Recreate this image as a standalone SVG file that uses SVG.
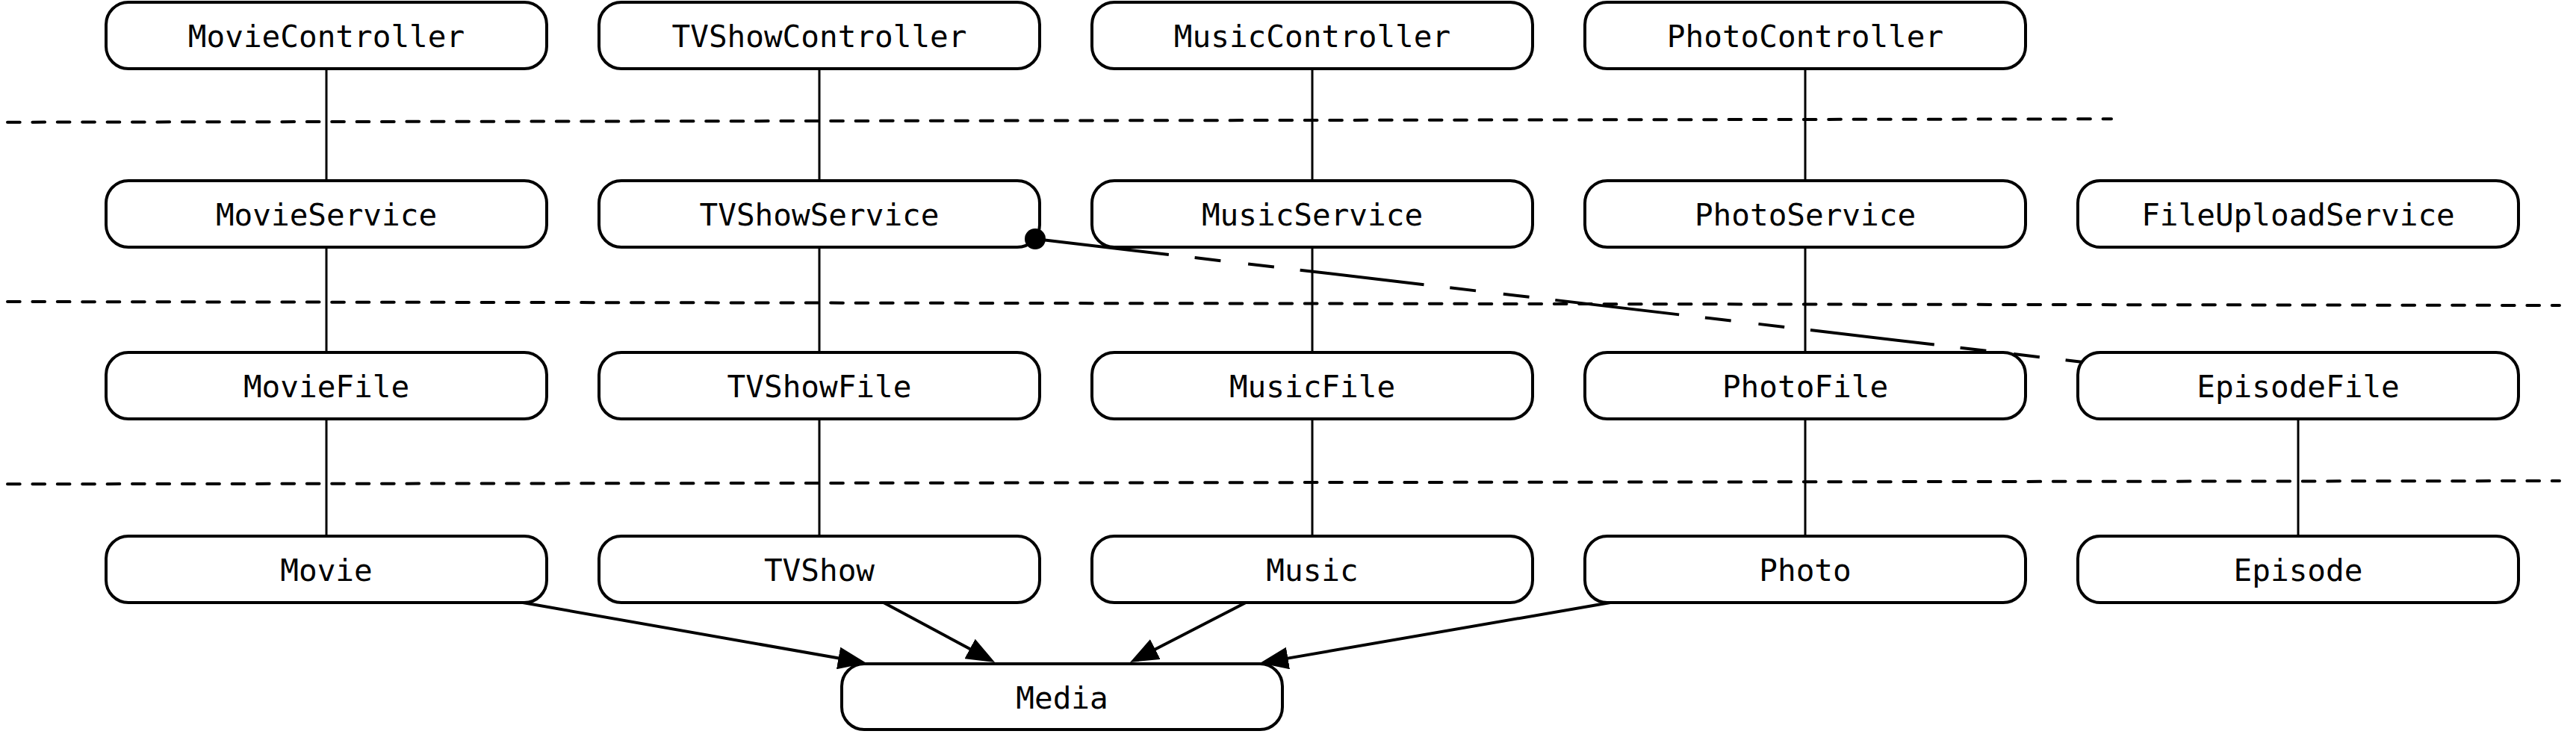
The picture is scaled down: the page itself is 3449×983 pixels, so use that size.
<svg xmlns="http://www.w3.org/2000/svg" width="3449" height="983" viewBox="0 0 3449 983">
<style>
.box{fill:#fff;stroke:#000;stroke-width:4}
.lbl{font-family:"DejaVu Sans Mono","Liberation Mono",monospace;font-size:41px;fill:#000;text-anchor:middle}
.layer{fill:none;stroke:#000;stroke-width:4;stroke-linecap:round;stroke-dasharray:16.7 16.7}
.vline{fill:none;stroke:#000;stroke-width:3}
.arrow{fill:none;stroke:#000;stroke-width:4;marker-end:url(#ah)}
.dep{fill:none;stroke:#000;stroke-width:4;stroke-dasharray:167 35 35 37 35 35}
</style>
<defs>
<marker id="ah" viewBox="0 0 38 30" refX="18" refY="15" markerWidth="38" markerHeight="30" markerUnits="userSpaceOnUse" orient="auto">
<path d="M0,0 L38,15 L0,30 z" fill="#000"/>
</marker>
</defs>
<g id="layers">
<path class="layer" d="M10,163.7 L2827,159.3"/>
<path class="layer" d="M10,404 L3427,409"/>
<path class="layer" d="M10,648.3 L3427,644"/>
</g>
<g id="MovieController"><rect class="box" x="142" y="3" width="590" height="89" rx="30"/><text class="lbl" x="437" y="63">MovieController</text></g>
<g id="TVShowController"><rect class="box" x="802" y="3" width="590" height="89" rx="30"/><text class="lbl" x="1097" y="63">TVShowController</text></g>
<g id="MusicController"><rect class="box" x="1462" y="3" width="590" height="89" rx="30"/><text class="lbl" x="1757" y="63">MusicController</text></g>
<g id="PhotoController"><rect class="box" x="2122" y="3" width="590" height="89" rx="30"/><text class="lbl" x="2417" y="63">PhotoController</text></g>
<g id="MovieService"><rect class="box" x="142" y="242" width="590" height="89" rx="30"/><text class="lbl" x="437" y="302">MovieService</text></g>
<g id="TVShowService"><rect class="box" x="802" y="242" width="590" height="89" rx="30"/><text class="lbl" x="1097" y="302">TVShowService</text></g>
<g id="MusicService"><rect class="box" x="1462" y="242" width="590" height="89" rx="30"/><text class="lbl" x="1757" y="302">MusicService</text></g>
<g id="PhotoService"><rect class="box" x="2122" y="242" width="590" height="89" rx="30"/><text class="lbl" x="2417" y="302">PhotoService</text></g>
<g id="FileUploadService"><rect class="box" x="2782" y="242" width="590" height="89" rx="30"/><text class="lbl" x="3077" y="302">FileUploadService</text></g>
<g id="MovieFile"><rect class="box" x="142" y="472" width="590" height="89" rx="30"/><text class="lbl" x="437" y="532">MovieFile</text></g>
<g id="TVShowFile"><rect class="box" x="802" y="472" width="590" height="89" rx="30"/><text class="lbl" x="1097" y="532">TVShowFile</text></g>
<g id="MusicFile"><rect class="box" x="1462" y="472" width="590" height="89" rx="30"/><text class="lbl" x="1757" y="532">MusicFile</text></g>
<g id="PhotoFile"><rect class="box" x="2122" y="472" width="590" height="89" rx="30"/><text class="lbl" x="2417" y="532">PhotoFile</text></g>
<g id="EpisodeFile"><rect class="box" x="2782" y="472" width="590" height="89" rx="30"/><text class="lbl" x="3077" y="532">EpisodeFile</text></g>
<g id="Movie"><rect class="box" x="142" y="718" width="590" height="89" rx="30"/><text class="lbl" x="437" y="778">Movie</text></g>
<g id="TVShow"><rect class="box" x="802" y="718" width="590" height="89" rx="30"/><text class="lbl" x="1097" y="778">TVShow</text></g>
<g id="Music"><rect class="box" x="1462" y="718" width="590" height="89" rx="30"/><text class="lbl" x="1757" y="778">Music</text></g>
<g id="Photo"><rect class="box" x="2122" y="718" width="590" height="89" rx="30"/><text class="lbl" x="2417" y="778">Photo</text></g>
<g id="Episode"><rect class="box" x="2782" y="718" width="590" height="89" rx="30"/><text class="lbl" x="3077" y="778">Episode</text></g>
<g id="Media"><rect class="box" x="1127" y="889" width="590" height="88" rx="30"/><text class="lbl" x="1422" y="949">Media</text></g>
<g id="connectors">
<path class="vline" d="M437,92 V242 M437,331 V472 M437,561 V718"/>
<path class="vline" d="M1097,92 V242 M1097,331 V472 M1097,561 V718"/>
<path class="vline" d="M1757,92 V242 M1757,331 V472 M1757,561 V718"/>
<path class="vline" d="M2417,92 V242 M2417,331 V472 M2417,561 V718"/>
<path class="vline" d="M3077,561 V718"/>
<path class="arrow" d="M700,807 L1140.3,884.5"/>
<path class="arrow" d="M1183,807 L1314.4,877.5"/>
<path class="arrow" d="M1668,807 L1530.8,877.8"/>
<path class="arrow" d="M2156,807 L1706.7,884.6"/>
<path class="dep" d="M1399,321.5 L2789,485"/>
<circle cx="1386" cy="320" r="14" fill="#000"/>
</g>
</svg>
